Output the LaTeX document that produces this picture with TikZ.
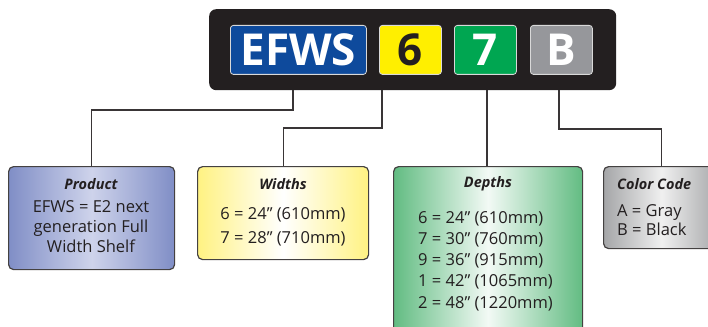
\documentclass[tikz,border=0pt]{standalone}
\usepackage{fontspec}
\setmainfont{Open Sans}
\usetikzlibrary{positioning}

\definecolor{barblack}{RGB}{35,31,32}
\definecolor{inkgray}{RGB}{35,31,32}
\definecolor{codeblue}{RGB}{14,74,156}
\definecolor{codeyellow}{RGB}{255,239,0}
\definecolor{codegreen}{RGB}{0,166,81}
\definecolor{codegray}{RGB}{150,151,155}
\definecolor{prodblue}{RGB}{128,142,198}
\definecolor{prodlight}{RGB}{206,211,235}
\definecolor{widyellow}{RGB}{255,242,130}
\definecolor{depgreen}{RGB}{98,188,130}
\definecolor{colgray}{RGB}{165,166,168}

\tikzset{
  codebox/.style={draw=white!70!gray, line width=0.8pt, rounded corners=3pt,
    minimum height=49pt, inner sep=0pt, anchor=north west, text=white,
    font=\fontsize{44}{44}\selectfont\bfseries},
  infobox/.style={draw=inkgray!85, line width=1.2pt, rounded corners=5pt,
    anchor=north west, inner sep=0pt},
  boxtitle/.style={text=inkgray, font=\fontsize{14.5}{17}\selectfont\bfseries\itshape},
  boxtext/.style={text=inkgray, inner sep=0pt},
  wire/.style={draw=inkgray!90, line width=1.2pt},
}

\begin{document}
\begin{tikzpicture}[x=1pt,y=-1pt]
  \useasboundingbox (0,0) rectangle (708,326);
  \path[clip] (0,0) rectangle (708,326);

  % code bar
  \node[fill=barblack, rounded corners=7pt, anchor=north west, inner sep=0pt,
    minimum width=407pt, minimum height=81pt] (bar) at (209,9) {};
  \node[codebox, fill=codeblue, minimum width=136pt] (efws) at (230,25) {EFWS};
  \node[codebox, fill=codeyellow, minimum width=62pt, text=inkgray] (six) at (379,25) {6};
  \node[codebox, fill=codegreen, minimum width=62pt] (seven) at (454,25) {7};
  \node[codebox, fill=codegray, minimum width=62pt] (colB) at (530,25) {B};

  % legend boxes
  \node[infobox, left color=prodblue, right color=prodblue, middle color=prodlight,
    minimum width=166pt, minimum height=103pt] (product) at (8,166) {};
  \node[infobox, left color=widyellow, right color=widyellow, middle color=white,
    minimum width=171pt, minimum height=93pt] (widths) at (197,166) {};
  \node[infobox, left color=depgreen, right color=depgreen, middle color=white!92!depgreen,
    minimum width=189pt, minimum height=190pt] (depths) at (393,166) {};
  \node[infobox, left color=colgray, right color=colgray, middle color=white!88!gray,
    minimum width=116pt, minimum height=82pt] (colorcode) at (603,166) {};

  \node[boxtitle] (producttitle) at (91,184) {Product};
  \node[boxtext, align=center, font=\fontsize{16.5}{20}\selectfont] (producttext) at (91,227)
    {EFWS = E2 next\\generation Full\\Width Shelf};

  \node[boxtitle] (widthstitle) at (283,184) {Widths};
  \node[boxtext, align=center, font=\fontsize{16.5}{24}\selectfont] (widthstext) at (283,227)
    {6 = 24” (610mm)\\7 = 28” (710mm)};

  \node[boxtitle] (depthstitle) at (488,184) {Depths};
  \node[boxtext, align=left, anchor=west, font=\fontsize{16.5}{21.3}\selectfont] (depthstext) at (418,261)
    {6 = 24” (610mm)\\7 = 30” (760mm)\\9 = 36” (915mm)\\1 = 42” (1065mm)\\2 = 48” (1220mm)};

  \node[boxtitle, anchor=west, inner sep=0pt] (colortitle) at (617,184) {Color Code};
  \node[boxtext, align=left, anchor=west, font=\fontsize{16.5}{19.5}\selectfont] (colortext) at (617,220)
    {A = Gray\\B = Black};

  % connectors
  \coordinate (pE) at (293,90);
  \coordinate (p6) at (382,90);
  \coordinate (p7) at (487,90);
  \coordinate (pB) at (559,90);
  \draw[wire] (pE) -- ++(0,20) -| (product.north);
  \draw[wire] (p6) -- ++(0,38) -| (widths.north);
  \draw[wire] (p7) -- (p7 |- depths.north);
  \draw[wire] (pB) -- ++(0,39) -| (colorcode.north);
\end{tikzpicture}
\end{document}
